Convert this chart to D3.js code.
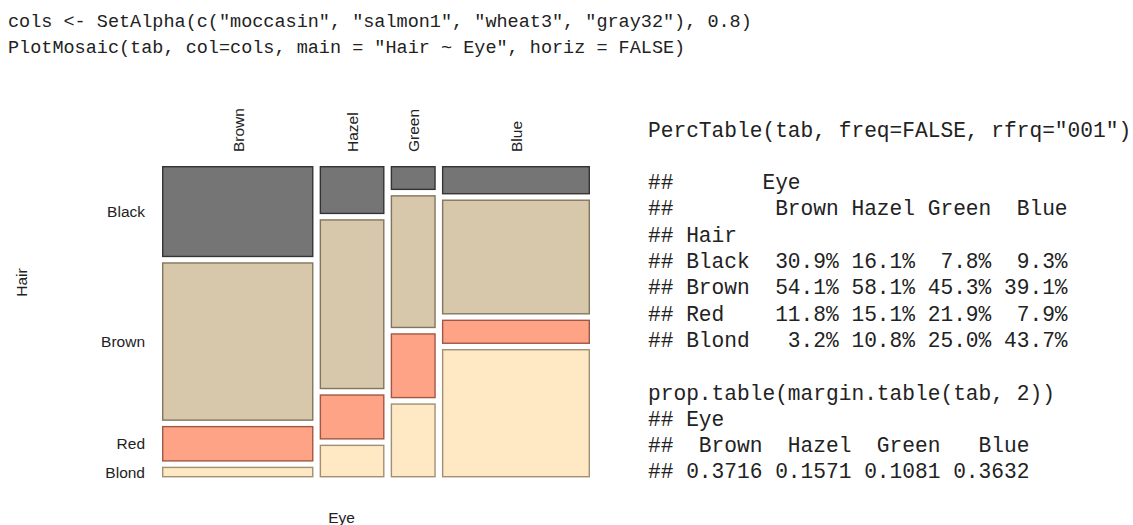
<!DOCTYPE html>
<html>
<head>
<meta charset="utf-8">
<script src="https://cdn.jsdelivr.net/npm/d3@7"></script>
<style>
  body { margin: 0; background: #fff; }
  .code { font-family: "Liberation Mono", "Courier New", monospace; fill: #222; white-space: pre; }
  .lab { font-family: "Liberation Sans", Arial, sans-serif; font-size: 15.5px; fill: #222; }
</style>
</head>
<body>
<div id="chart"></div>
<script>
// Eye colour (columns) and hair colour (rows)
const eyeLevels = ["Brown", "Hazel", "Green", "Blue"];
const hairLevels = ["Black", "Brown", "Red", "Blond"];

// prop.table(margin.table(tab, 2))
const eyeProp = [0.3716, 0.1571, 0.1081, 0.3632];

// column percentages, one array per hair colour (Brown, Hazel, Green, Blue eyes)
const pctBlack = [30.9, 16.1, 7.8, 9.3];
const pctBrown = [54.1, 58.1, 45.3, 39.1];
const pctRed   = [11.8, 15.1, 21.9, 7.9];
const pctBlond = [3.2, 10.8, 25.0, 43.7];

// SetAlpha(c("moccasin", "salmon1", "wheat3", "gray32"), 0.8), mapped Blond..Black
const hairColors = ["#525252", "#CDBA96", "#FF8C69", "#FFE4B5"];

const codeTop = [
  'cols <- SetAlpha(c("moccasin", "salmon1", "wheat3", "gray32"), 0.8)',
  'PlotMosaic(tab, col=cols, main = "Hair ~ Eye", horiz = FALSE)'
];

const width = 1133, height = 525;

const svg = d3.select('#chart')
  .append('svg')
  .attr('width', width)
  .attr('height', height);

// code lines at the top
svg.selectAll('text.top')
  .data(codeTop)
  .enter()
  .append('text')
  .attr('class', 'code top')
  .attr('x', 8)
  .attr('y', (d, i) => 27 + i * 26)
  .style('font-size', '18.5px')
  .attr('xml:space', 'preserve')
  .text(d => d);

// mosaic area
const mx0 = 162.7, mx1 = 589.3, my0 = 166.7, my1 = 476.7;
const gapX = 7.6, gapY = 6.5;

const pctTable = [pctBlack, pctBrown, pctRed, pctBlond];

const xScale = d3.scaleLinear()
  .domain([0, d3.sum(eyeProp)])
  .range([mx0, mx1 - gapX * (eyeLevels.length - 1)]);

const cells = [];
let cumX = 0;
eyeLevels.forEach((eye, j) => {
  const x = xScale(cumX) + j * gapX;
  const w = xScale(cumX + eyeProp[j]) - xScale(cumX);
  const colVals = pctTable.map(r => r[j]);
  const yScale = d3.scaleLinear()
    .domain([0, d3.sum(colVals)])
    .range([my0, my1 - gapY * (hairLevels.length - 1)]);
  let cumY = 0;
  hairLevels.forEach((hair, i) => {
    cells.push({
      eye, hair, i, j, x, w,
      y: yScale(cumY) + i * gapY,
      h: yScale(cumY + colVals[i]) - yScale(cumY)
    });
    cumY += colVals[i];
  });
  cumX += eyeProp[j];
});

svg.selectAll('rect.cell')
  .data(cells)
  .enter()
  .append('rect')
  .attr('class', 'cell')
  .attr('x', d => d.x)
  .attr('y', d => d.y)
  .attr('width', d => d.w)
  .attr('height', d => d.h)
  .attr('fill', d => hairColors[d.i])
  .attr('fill-opacity', 0.8)
  .attr('stroke', d => d3.color(hairColors[d.i]).darker(1.3))
  .attr('stroke-width', 1.4);

// eye labels on top (rotated)
const colCells = cells.filter(d => d.i === 0);
svg.selectAll('text.eye')
  .data(colCells)
  .enter()
  .append('text')
  .attr('class', 'lab eye')
  .attr('transform', d => `translate(${d.x + d.w / 2 + 6},152) rotate(-90)`)
  .attr('text-anchor', 'start')
  .text(d => d.eye);

// hair labels on the left, aligned with first column
const rowCells = cells.filter(d => d.j === 0);
svg.selectAll('text.hair')
  .data(rowCells)
  .enter()
  .append('text')
  .attr('class', 'lab hair')
  .attr('x', 145)
  .attr('y', d => d.y + d.h / 2 + 5.5)
  .attr('text-anchor', 'end')
  .text(d => d.hair);

// axis titles
svg.append('text')
  .attr('class', 'lab')
  .attr('x', 341.5)
  .attr('y', 523)
  .attr('text-anchor', 'middle')
  .text('Eye');

svg.append('text')
  .attr('class', 'lab')
  .attr('transform', 'translate(26.5,282.5) rotate(-90)')
  .attr('text-anchor', 'middle')
  .text('Hair');

// console output on the right, built from the arrays
const padL = (s, n) => s.padStart(n, ' ');
const padR = (s, n) => s.padEnd(n, ' ');
const rightLines = [
  'PercTable(tab, freq=FALSE, rfrq="001")',
  '',
  '##' + ' '.repeat(7) + 'Eye',
  '## ' + ' '.repeat(6) + eyeLevels.map(e => padL(e, 6)).join(''),
  '## Hair',
  ...hairLevels.map((h, i) => '## ' + padR(h, 6) +
      pctTable[i].map(v => padL(v.toFixed(1) + '%', 6)).join('')),
  '',
  'prop.table(margin.table(tab, 2))',
  '## Eye',
  '## ' + eyeLevels.map(e => padL(e, 6)).join(' '),
  '## ' + eyeProp.map(v => padL(v.toFixed(4), 6)).join(' ')
];

svg.selectAll('text.right')
  .data(rightLines)
  .enter()
  .append('text')
  .attr('class', 'code right')
  .attr('x', 648)
  .attr('y', (d, i) => 136.5 + i * 26.3)
  .style('font-size', '21.2px')
  .attr('xml:space', 'preserve')
  .text(d => d);
</script>
</body>
</html>
